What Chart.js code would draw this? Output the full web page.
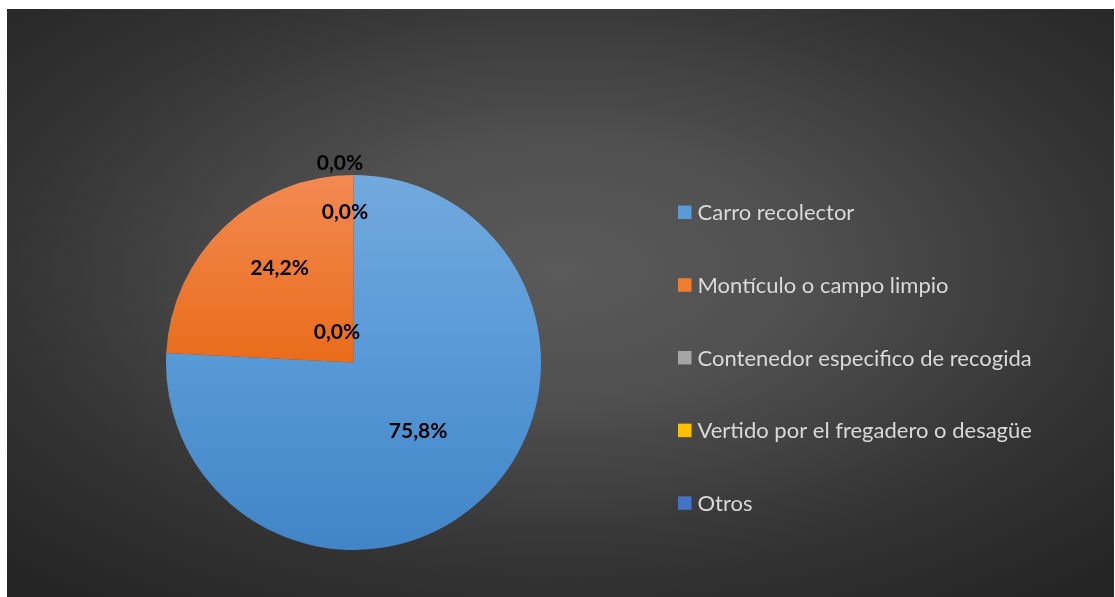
<!DOCTYPE html>
<html><head><meta charset="utf-8">
<script src="https://cdn.jsdelivr.net/npm/chart.js@4"></script>
<style>html,body{margin:0;padding:0;background:#fff;overflow:hidden}#wrap{position:absolute;left:0;top:0;width:1115px;height:597px}</style>
</head><body><div id="wrap"><canvas id="c" width="1115" height="597"></canvas></div>
<script>
// ---- data ----
const categories = ["Carro recolector", "Montículo o campo limpio", "Contenedor especifico de recogida", "Vertido por el fregadero o desagüe", "Otros"];
const shares = [75.8, 24.2, 0, 0, 0];
// ---- styles ----
const topColors = ["#72a9de", "#f28a52", "#bdbdbd", "#ffd44d", "#5b84d0"];
const midColors = ["#5799d6", "#e96c1a", "#a5a5a5", "#ffc000", "#4472c4"];
const bottomColors = ["#4185c7", "#dc6212", "#8f8f8f", "#f0b400", "#3a66b8"];
const legendColors = ["#5b9bd5", "#ed7d31", "#a5a5a5", "#ffc000", "#4472c4"];

function fmtPct(v){ return v.toFixed(1).replace('.', ',') + '%'; }

const bgPlugin = {
  id: 'bg',
  beforeDraw(chart){
    const c = chart.ctx;
    c.save();
    c.fillStyle = '#ffffff';
    c.fillRect(0, 0, chart.width, chart.height);
    const x0 = 7, y0 = 9, x1 = 1114, y1 = 597;
    const cx = (x0 + x1) / 2, cy = 270;
    const hw = (x1 - x0) / 2, hh = (y1 - y0) / 2;
    c.beginPath(); c.rect(x0, y0, x1 - x0, y1 - y0); c.clip();
    c.translate(cx, cy);
    c.scale(1, hh / hw);
    const g = c.createRadialGradient(0, 0, 0, 0, 0, hw * 1.45);
    g.addColorStop(0, '#5a5a5a');
    g.addColorStop(0.3, '#505050');
    g.addColorStop(0.7, '#333333');
    g.addColorStop(1, '#242424');
    c.fillStyle = g;
    c.fillRect(-hw * 1.5, -hw * 1.5, hw * 3, hw * 3);
    c.restore();
  }
};

const labelPlugin = {
  id: 'pctLabels',
  afterDatasetsDraw(chart, args, opts){
    const c = chart.ctx;
    const meta = chart.getDatasetMeta(0);
    const vals = chart.data.datasets[0].data;
    c.save();
    c.font = opts.font;
    c.fillStyle = opts.color;
    c.textAlign = 'center';
    c.textBaseline = 'middle';
    meta.data.forEach((arc, i) => {
      const p = arc.getProps(['x', 'y', 'startAngle', 'endAngle', 'outerRadius'], true);
      const mid = (p.startAngle + p.endAngle) / 2;
      const pl = opts.place[i];
      const x = p.x + Math.cos(mid) * p.outerRadius * pl.f + pl.dx;
      const y = p.y + Math.sin(mid) * p.outerRadius * pl.f + pl.dy;
      c.fillText(fmtPct(vals[i]), x, y);
    });
    c.restore();
  }
};

const legendPlugin = {
  id: 'sideLegend',
  afterDraw(chart, args, opts){
    const c = chart.ctx;
    const labels = chart.data.labels;
    c.save();
    c.font = opts.font;
    c.textBaseline = 'middle';
    c.textAlign = 'left';
    labels.forEach((lab, i) => {
      const y = opts.y0 + i * opts.step;
      c.fillStyle = legendColors[i];
      c.fillRect(opts.boxX, y - opts.box / 2, opts.box, opts.box);
      c.fillStyle = opts.color;
      c.fillText(lab, opts.textX, y + 1);
    });
    c.restore();
  }
};

new Chart(document.getElementById('c'), {
  type: 'pie',
  data: {
    labels: categories,
    datasets: [{
      data: shares,
      borderWidth: 0,
      radius: 187.5,
      backgroundColor(ctx){
        const ca = ctx.chart.chartArea;
        const i = ctx.dataIndex;
        if (!ca) return legendColors[i];
        const cy = (ca.top + ca.bottom) / 2;
        const g = ctx.chart.ctx.createLinearGradient(0, cy - 187.5, 0, cy + 187.5);
        g.addColorStop(0, topColors[i]);
        g.addColorStop(0.5, midColors[i]);
        g.addColorStop(1, bottomColors[i]);
        return g;
      }
    }]
  },
  options: {
    responsive: false,
    animation: false,
    layout: { padding: { left: 160, right: 568, top: 170, bottom: 42 } },
    plugins: {
      legend: { display: false },
      tooltip: { enabled: false },
      pctLabels: {
        font: 'bold 21px Lato',
        color: '#000000',
        place: [
          { f: 0.5, dx: 0, dy: 0.5 },
          { f: 0.5, dx: -9.3, dy: -26.5 },
          { f: 0.16, dx: -16.5, dy: 0 },
          { f: 0.8, dx: -8.5, dy: 0 },
          { f: 1.064, dx: -13.5, dy: 0 }
        ]
      },
      sideLegend: {
        font: '22px Lato',
        color: '#d9d9d9',
        boxX: 678, box: 13.5, textX: 697.5, y0: 212.3, step: 72.7
      }
    }
  },
  plugins: [bgPlugin, labelPlugin, legendPlugin]
});
</script></body></html>
